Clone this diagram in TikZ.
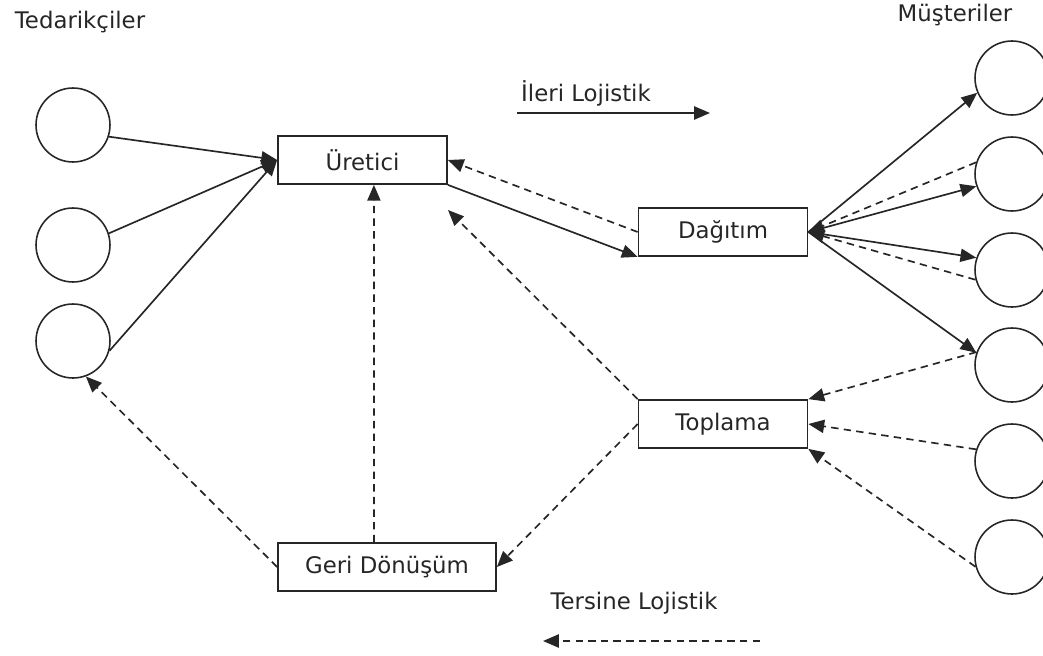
\documentclass[tikz,border=0pt]{standalone}
\usepackage{fontspec}
\setmainfont{DejaVu Sans}
\usepackage{tikz}
\usetikzlibrary{arrows.meta, positioning}
\colorlet{ink}{black!85}

\begin{document}
\begin{tikzpicture}[x=0.02cm, y=-0.02cm, color=ink,
  font=\fontsize{13}{15}\selectfont,
  box/.style={rectangle, draw, line width=1pt, minimum width=3.38cm, minimum height=0.96cm, inner sep=0pt},
  party/.style={circle, draw, line width=0.9pt, minimum size=1.48cm, inner sep=0pt},
  fwd/.style={line width=0.95pt, arrows={-Triangle[length=9pt, width=7.5pt]}},
  rev/.style={fwd, dash pattern=on 4.2pt off 3pt}]
  \useasboundingbox (0,0) rectangle (1043,655);
  % headings
  \node (sup) at (80,22) {Tedarikçiler};
  \node (cus) at (955,15) {Müşteriler};
  % suppliers and customers
  \node[party] (s1) at (73,125) {};
  \node[party] (s2) at (73,245) {};
  \node[party] (s3) at (73,341) {};
  \node[party] (m1) at (1012,78) {};
  \node[party] (m2) at (1012,174) {};
  \node[party] (m3) at (1012,270) {};
  \node[party] (m4) at (1012,365) {};
  \node[party] (m5) at (1012,461) {};
  \node[party] (m6) at (1012,557) {};
  % stages
  \node[box] (U) at (362.5,160) {Üretici};
  \node[box] (D) at (723,232) {Dağıtım};
  \node[box] (T) at (723,424) {Toplama};
  \node[box, minimum width=4.36cm] (G) at (387,567) {Geri Dönüşüm};
  % forward flow
  \draw[fwd] (s1.342) -- (U.west);
  \draw[fwd] (s2.18) -- (U.west);
  \draw[fwd] (s3.345) -- (U.west);
  \draw[fwd] (U.south east) -- (D.south west);
  \draw[fwd] (D.east) -- (m1.203);
  \draw[fwd] (D.east) -- (m2.199);
  \draw[fwd] (D.east) -- (m3.161);
  \draw[fwd] (D.east) -- (m4.161);
  % reverse flow
  \coordinate (uc) at (448,210);
  \draw[rev] (D.west) -- (U.east);
  \draw[rev] (m2.162) -- (D.east);
  \draw[rev] (m3.195) -- (D.east);
  \draw[rev] (m4.160) -- (T.north east);
  \draw[rev] (m5.162) -- (T.east);
  \draw[rev] (m6.195) -- (T.south east);
  \draw[rev] (T.north west) -- (uc);
  \draw[rev] (T.west) -- (G.east);
  \draw[rev] ([xshift=-7.4pt]G.north) -- ([xshift=6.5pt]U.south);
  \draw[rev] (G.west) -- (s3.290);
  % legend
  \node (fl) at (586,93) {İleri Lojistik};
  \coordinate (fa) at (517,113);
  \coordinate (fb) at (710,113);
  \draw[fwd] (fa) -- (fb);
  \node (rl) at (634,603) {Tersine Lojistik};
  \coordinate (ra) at (760,641);
  \coordinate (rb) at (543,641);
  \draw[rev] (ra) -- (rb);
\end{tikzpicture}
\end{document}
